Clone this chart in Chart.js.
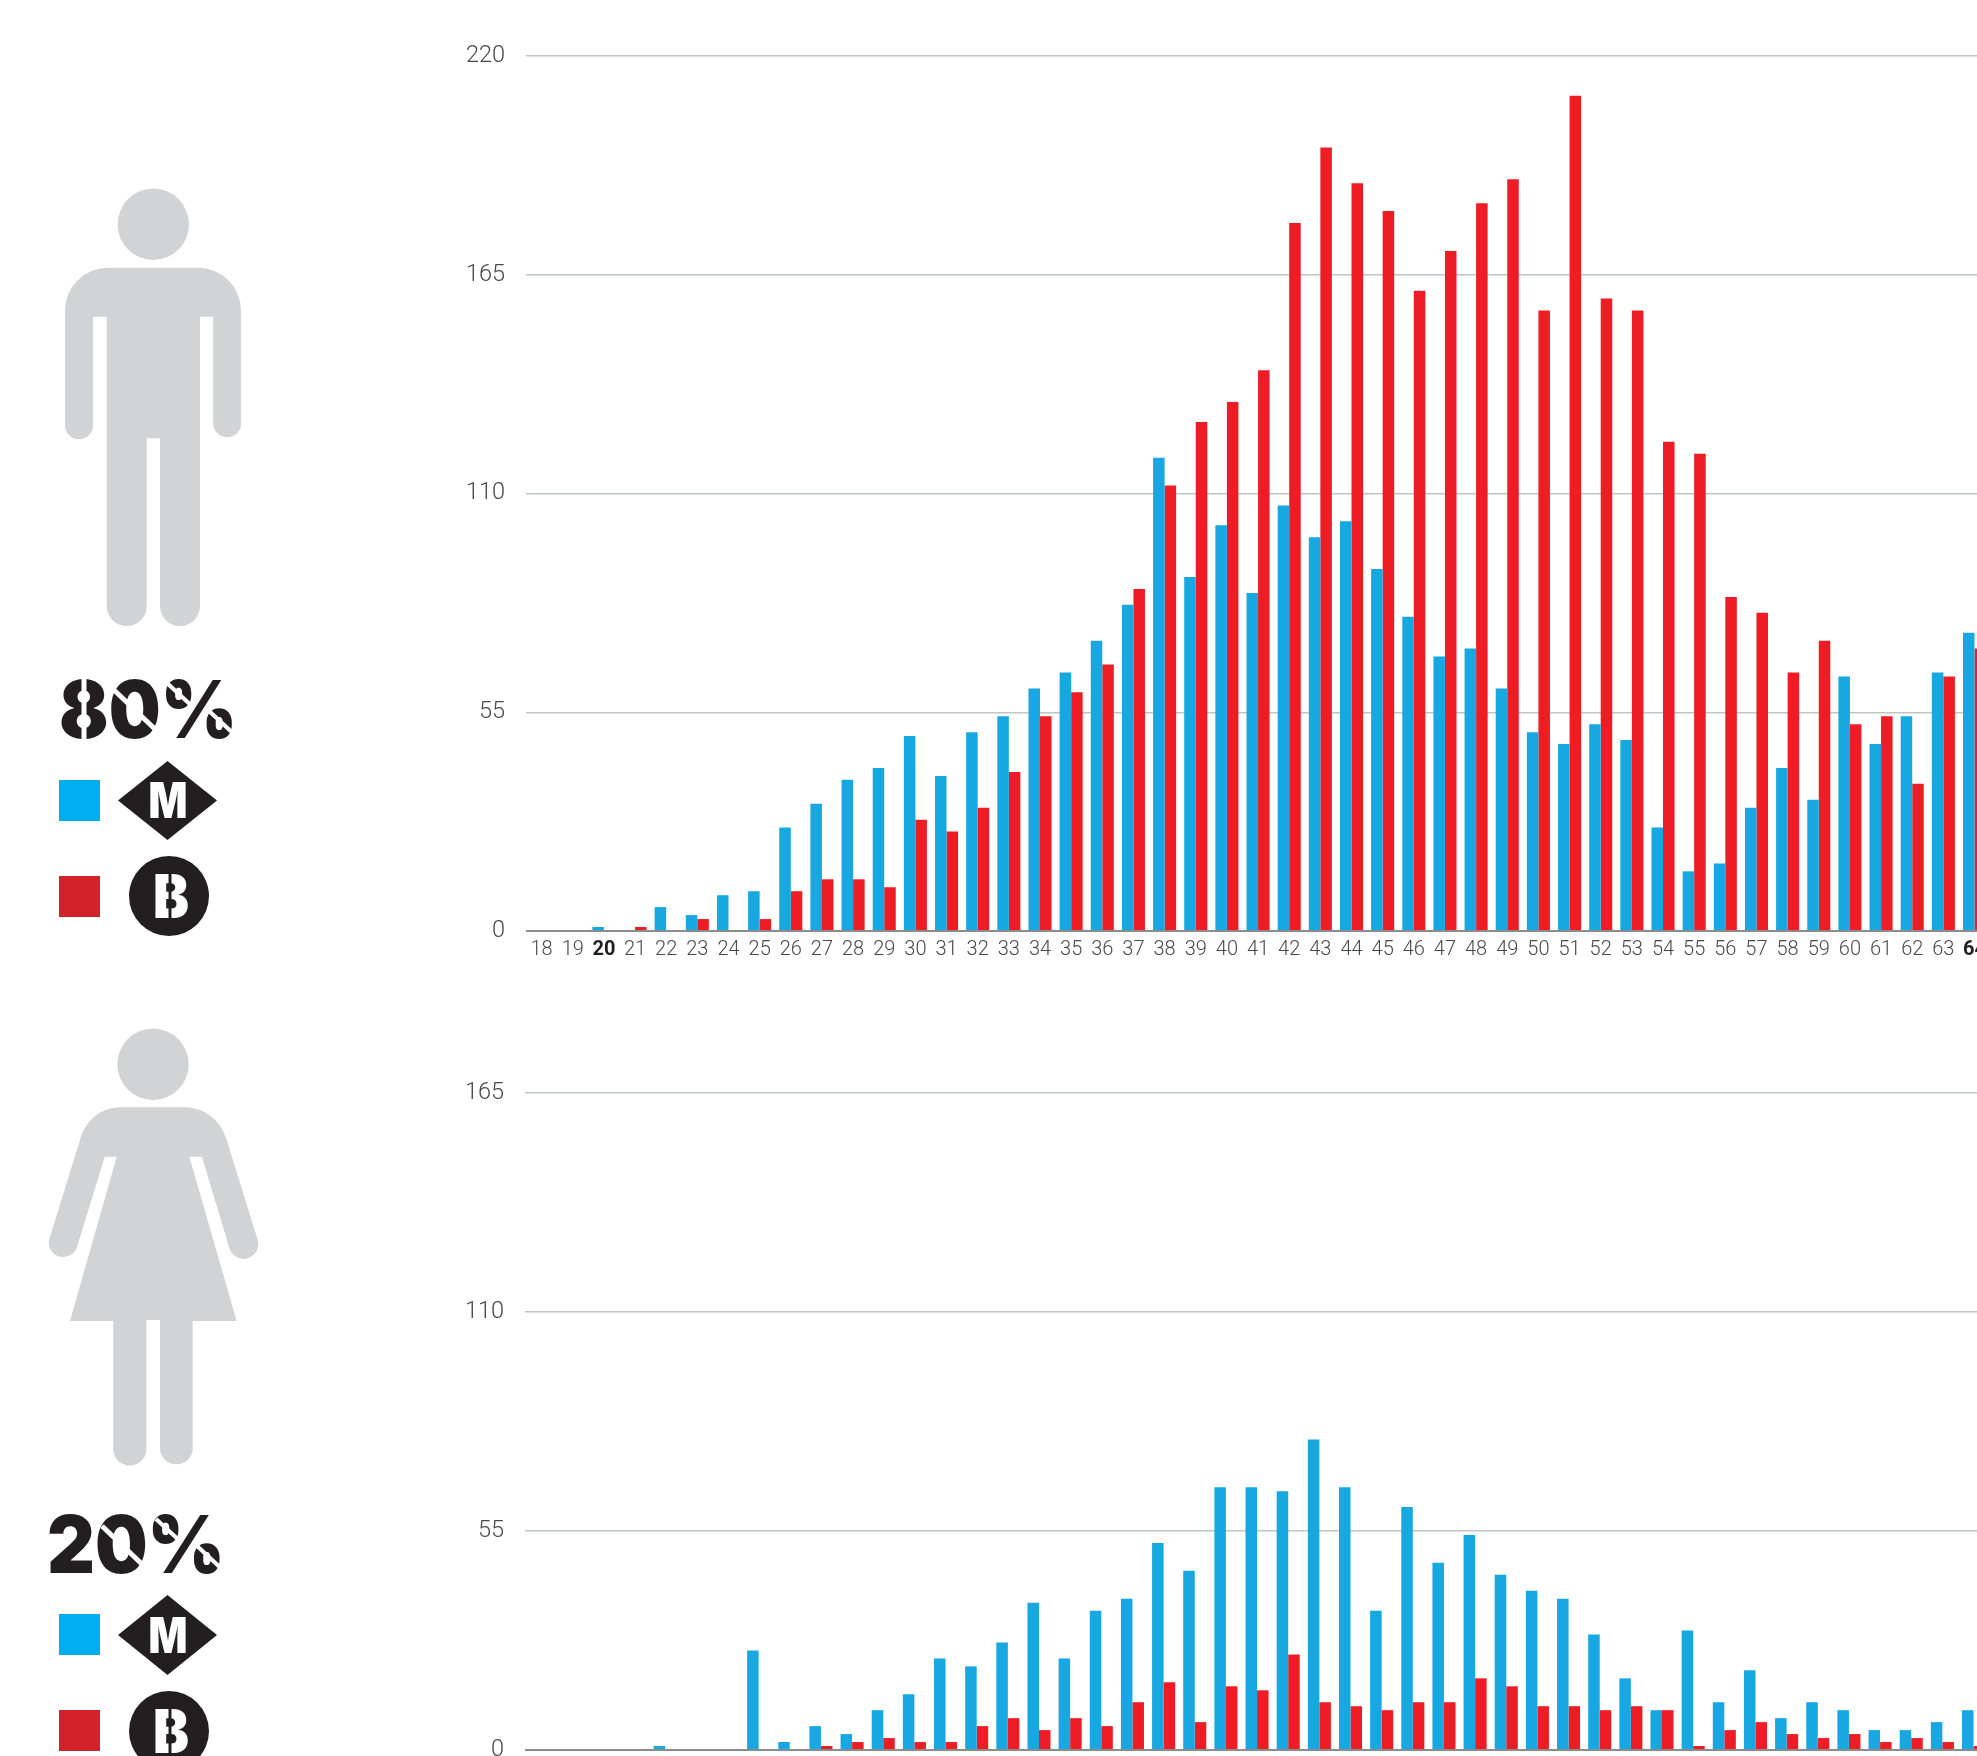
<!DOCTYPE html>
<html>
<head>
<meta charset="utf-8">
<title>Age distribution by transport</title>
<script src="https://cdn.jsdelivr.net/npm/chart.js@4/dist/chart.umd.js"></script>
<style>
    html, body { margin: 0; padding: 0; background: #fff; width: 1977px; height: 1756px; overflow: hidden; }
    canvas { position: absolute; }
    #menChart { left: 0; top: 0; }
    #womenChart { left: -1px; top: 1037px; }
    svg { position: absolute; left: 0; top: 0; }
    .pct { font-family: Inter, sans-serif; font-weight: 900; font-size: 80px; fill: #231f20; }
    .logo { font-family: Inter, sans-serif; font-weight: 900; fill: #fff; text-anchor: middle; }
</style>
</head>
<body>
<canvas id="menChart" width="1993" height="1000"></canvas>
<canvas id="womenChart" width="1993" height="782"></canvas>

<svg width="1977" height="1756" viewBox="0 0 1977 1756">
    <!-- man -->
    <g fill="#d1d3d4">
        <circle cx="153.3" cy="224.3" r="35.7"/>
        <path d="M108 267.7 H198 A43 43 0 0 1 241 310.7 V425.3 A14 14 0 0 1 213.3 425.3 V316.7 H200 V606 A20 20 0 0 1 160 606 V438.3 H146.7 V606 A20 20 0 0 1 106.7 606 V316.7 H93 V425.3 A14 14 0 0 1 65 425.3 V310.7 A43 43 0 0 1 108 267.7 Z"/>
    </g>
    <!-- woman -->
    <g fill="#d1d3d4">
        <circle cx="153" cy="1064.3" r="35.7"/>
        <path d="M120 1107.3 H185 C205 1107.3 221 1121 226.7 1140 L257.7 1240 A14.5 14.5 0 0 1 229.3 1248 L202 1156.7 H189.3 L236.7 1321 H192.7 V1449.2 A16.4 16.4 0 0 1 160 1449.2 V1320 H146.3 V1449.2 A16.5 16.5 0 0 1 113.3 1449.2 V1321 H70 L116.7 1156.7 H104.7 L76.7 1248 A14.5 14.5 0 0 1 49 1240 L80 1140 C85 1121 101 1107.3 120 1107.3 Z"/>
    </g>

    <!-- 80% block -->
    <text class="pct" x="59" y="738" textLength="178" lengthAdjust="spacingAndGlyphs">80%</text>
    <g stroke="#fff" fill="none">
        <line x1="84" y1="675" x2="84" y2="745" stroke-width="5"/>
        <line x1="114" y1="690" x2="158" y2="732" stroke-width="5"/>
        <line x1="168" y1="684" x2="194" y2="708" stroke-width="4"/>
        <line x1="208" y1="710" x2="236" y2="736" stroke-width="4"/>
    </g>
    <rect x="59" y="780" width="41" height="41" fill="#00aeef"/>
    <path d="M167.5 761 L217 800.5 L167.5 840 L118 800.5 Z" fill="#231f20"/>
    <text class="logo" x="168" y="818" font-size="49" textLength="39" lengthAdjust="spacingAndGlyphs">M</text>
    <rect x="59" y="876" width="41" height="41" fill="#d2232a"/>
    <circle cx="169" cy="896" r="40" fill="#231f20"/>
    <text class="logo" x="171" y="918" font-size="60" textLength="36" lengthAdjust="spacingAndGlyphs">B</text>
    <line x1="170" y1="872" x2="170" y2="920" stroke="#231f20" stroke-width="3"/>

    <!-- 20% block -->
    <text class="pct" x="47" y="1573" textLength="178" lengthAdjust="spacingAndGlyphs">20%</text>
    <g stroke="#fff" fill="none">
        <line x1="102" y1="1526" x2="146" y2="1568" stroke-width="5"/>
        <line x1="156" y1="1519" x2="182" y2="1543" stroke-width="4"/>
        <line x1="196" y1="1545" x2="224" y2="1571" stroke-width="4"/>
    </g>
    <rect x="59" y="1614" width="41" height="41" fill="#00aeef"/>
    <path d="M167.5 1595 L217 1635 L167.5 1675 L118 1635 Z" fill="#231f20"/>
    <text class="logo" x="168" y="1653" font-size="49" textLength="39" lengthAdjust="spacingAndGlyphs">M</text>
    <rect x="59" y="1710" width="41" height="41" fill="#d2232a"/>
    <circle cx="169" cy="1731" r="40" fill="#231f20"/>
    <text class="logo" x="171" y="1753" font-size="60" textLength="36" lengthAdjust="spacingAndGlyphs">B</text>
    <line x1="170" y1="1707" x2="170" y2="1755" stroke="#231f20" stroke-width="3"/>
</svg>

<script>
// ages on the x axis, 20 and 64 are printed bold
const ages = ['18','19','20','21','22','23','24','25','26','27','28','29','30','31','32','33','34','35','36','37','38','39','40','41','42','43','44','45','46','47','48','49','50','51','52','53','54','55','56','57','58','59','60','61','62','63','64'];
const boldAges = ['20', '64'];

const menYTicks = [0, 55, 110, 165, 220];
const womenYTicks = [0, 55, 110, 165];

const menMetro = [0,0,1,0,6,4,9,10,26,32,38,41,49,39,50,54,61,65,73,82,119,89,102,85,107,99,103,91,79,69,71,61,50,47,52,48,26,15,17,31,41,33,64,47,54,65,75];
const menBus = [0,0,0,1,0,3,0,3,10,13,13,11,28,25,31,40,54,60,67,86,112,128,133,141,178,197,188,181,161,171,183,189,156,210,159,156,123,120,84,80,65,73,52,54,37,64,71];

const womenMetro = [0,0,0,0,1,0,0,25,2,6,4,10,14,23,21,27,37,23,35,38,52,45,66,66,65,78,66,35,61,47,54,44,40,38,29,18,10,30,12,20,8,12,10,5,5,7,10];
const womenBus = [0,0,0,0,0,0,0,0,0,1,2,3,2,2,6,8,5,8,6,12,17,7,16,15,24,12,11,10,12,12,18,16,11,11,10,11,10,1,5,7,4,3,4,2,3,2,1];

const metroColor = '#17a8e2';
const busColor = '#ee1c25';

function drawChart(id, metro, bus, yTicks) {
    const ctx = document.getElementById(id).getContext('2d');
    return new Chart(ctx, {
        type: 'bar',
        data: {
            labels: ages,
            datasets: [
                { label: 'M', data: metro, backgroundColor: metroColor },
                { label: 'B', data: bus, backgroundColor: busColor }
            ]
        },
        options: {
            responsive: false,
            animation: false,
            devicePixelRatio: 1,
            layout: { padding: { top: 56 } },
            datasets: { bar: { barPercentage: 1, categoryPercentage: 0.74 } },
            plugins: { legend: { display: false }, tooltip: { enabled: false } },
            scales: {
                x: {
                    grid: { display: false, drawTicks: false },
                    border: { display: false },
                    afterFit: (scale) => { scale.height = 69; },
                    ticks: {
                        autoSkip: false,
                        maxRotation: 0,
                        padding: 7,
                        color: (c) => boldAges.includes(ages[c.index]) ? '#231f20' : '#48494b',
                        font: (c) => boldAges.includes(ages[c.index])
                            ? { family: 'Roboto', size: 20, weight: '700' }
                            : { family: 'Roboto', size: 20, weight: '300' }
                    }
                },
                y: {
                    min: 0,
                    max: yTicks[yTicks.length - 1],
                    afterBuildTicks: (scale) => { scale.ticks = yTicks.map(v => ({ value: v })); },
                    afterFit: (scale) => { scale.width = 526; },
                    border: { display: false },
                    grid: {
                        drawTicks: false,
                        color: (c) => c.tick.value === 0 ? '#8c8c8c' : '#c2c5c5',
                        lineWidth: (c) => c.tick.value === 0 ? 2 : 1.5
                    },
                    ticks: {
                        padding: 21,
                        color: '#48494b',
                        font: { family: 'Roboto', size: 23.5, weight: '300' }
                    }
                }
            }
        }
    });
}

drawChart('menChart', menMetro, menBus, menYTicks);
drawChart('womenChart', womenMetro, womenBus, womenYTicks);
</script>
</body>
</html>
